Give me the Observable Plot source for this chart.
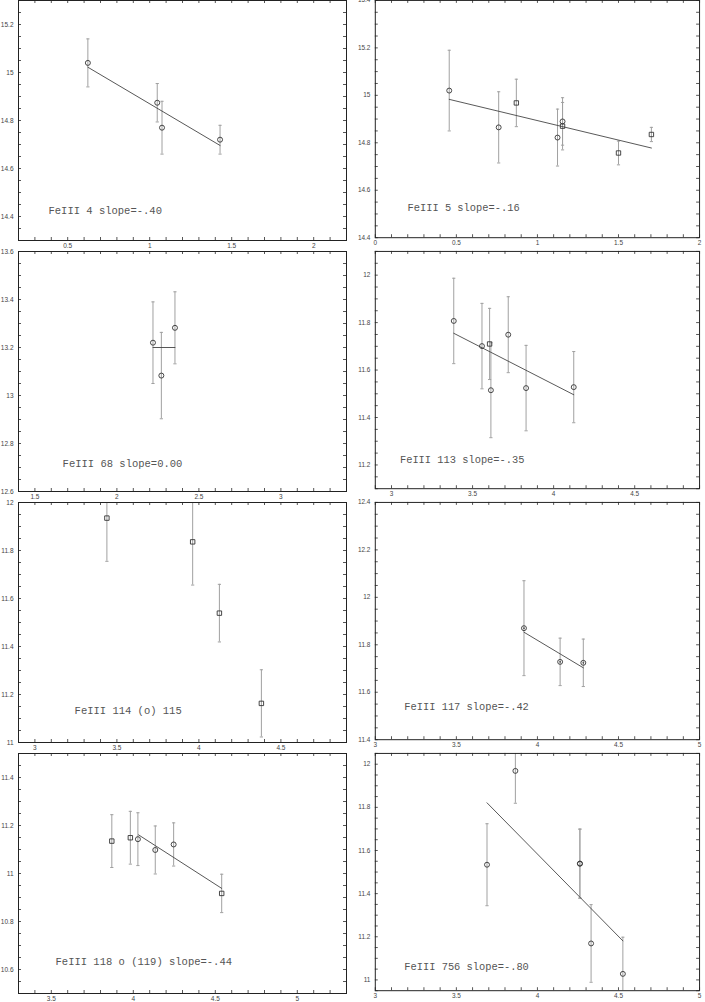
<!DOCTYPE html>
<html><head><meta charset="utf-8">
<script src="https://cdn.jsdelivr.net/npm/d3@7"></script>
<script src="https://cdn.jsdelivr.net/npm/@observablehq/plot@0.6"></script>
<style>
body{margin:0;background:#fff;}
#wrap{position:relative;width:705px;height:1002px;overflow:hidden;background:#fff;}
.panel{position:absolute;}
</style></head><body><div id="wrap"></div>
<script>
// ---------- DATA ----------
const titles = ["FeIII 4 slope=-.40", "FeIII 5 slope=-.16", "FeIII 68 slope=0.00", "FeIII 113 slope=-.35",
  "FeIII 114 (o) 115", "FeIII 117 slope=-.42", "FeIII 118 o (119) slope=-.44", "FeIII 756 slope=-.80"];
const labelPos = [[0.383, 14.425], [0.199, 14.525], [1.669, 12.718], [3.052, 11.221],
  [3.242, 11.133], [3.179, 11.538], [3.526, 10.633], [3.179, 11.06]];

const xDomains = [[0.2, 2.2], [0, 2], [1.4, 3.4], [2.9, 4.9], [2.9, 4.9], [3, 5], [3.3, 5.3], [3, 5]];
const yDomains = [[14.3, 15.3], [14.4, 15.4], [12.6, 13.6], [11.1, 12.1], [11, 12], [11.4, 12.4], [10.5, 11.5], [10.95, 12.05]];
const xTickLabels = [[0.5, 1, 1.5, 2], [0, 0.5, 1, 1.5, 2], [1.5, 2, 2.5, 3], [3, 3.5, 4, 4.5],
  [3, 3.5, 4, 4.5], [3, 3.5, 4, 4.5, 5], [3.5, 4, 4.5, 5], [3, 3.5, 4, 4.5, 5]];
const yTickLabels = [[14.4, 14.6, 14.8, 15, 15.2], [14.4, 14.6, 14.8, 15, 15.2, 15.4], [12.6, 12.8, 13, 13.2, 13.4, 13.6],
  [11.2, 11.4, 11.6, 11.8, 12], [11, 11.2, 11.4, 11.6, 11.8, 12], [11.4, 11.6, 11.8, 12, 12.2, 12.4],
  [10.6, 10.8, 11, 11.2, 11.4], [11, 11.2, 11.4, 11.6, 11.8, 12]];

// Panel 1: FeIII 4
const p1x = [0.623, 1.046, 1.075, 1.429];
const p1y = [15.04, 14.874, 14.77, 14.72];
const p1e = [0.10, 0.08, 0.11, 0.06];
const p1s = ["o", "o", "o", "o"];
const p1fit = [[0.623, 15.022], [1.429, 14.696]];
// Panel 2: FeIII 5
const p2x = [0.456, 0.761, 0.870, 1.124, 1.155, 1.155, 1.500, 1.703];
const p2y = [15.02, 14.865, 14.968, 14.822, 14.89, 14.87, 14.757, 14.835];
const p2e = [0.17, 0.15, 0.10, 0.12, 0.10, 0.10, 0.05, 0.03];
const p2s = ["o", "o", "s", "o", "o", "s", "s", "s"];
const p2fit = [[0.456, 14.983], [1.703, 14.778]];
// Panel 3: FeIII 68
const p3x = [2.22, 2.271, 2.354];
const p3y = [13.22, 13.083, 13.282];
const p3e = [0.17, 0.18, 0.15];
const p3s = ["o", "o", "o"];
const p3fit = [[2.22, 13.2], [2.354, 13.2]];
// Panel 4: FeIII 113
const p4x = [3.384, 3.558, 3.605, 3.613, 3.72, 3.83, 4.124];
const p4y = [11.807, 11.701, 11.71, 11.515, 11.749, 11.524, 11.528];
const p4e = [0.18, 0.18, 0.15, 0.20, 0.16, 0.18, 0.15];
const p4s = ["o", "o", "s", "o", "o", "o", "o"];
const p4fit = [[3.384, 11.755], [4.124, 11.496]];
// Panel 5: FeIII 114 / 115
const p5x = [3.439, 3.962, 4.125, 4.381];
const p5y = [11.935, 11.836, 11.539, 11.163];
const p5e = [0.18, 0.18, 0.12, 0.14];
const p5s = ["s", "s", "s", "s"];
const p5fit = [];
// Panel 6: FeIII 117
const p6x = [3.917, 4.14, 4.283];
const p6y = [11.87, 11.728, 11.724];
const p6e = [0.20, 0.10, 0.10];
const p6s = ["d", "d", "d"];
const p6fit = [[3.917, 11.853], [4.283, 11.703]];
// Panel 7: FeIII 118 / 119
const p7x = [3.869, 3.982, 4.028, 4.134, 4.246, 4.539];
const p7y = [11.135, 11.149, 11.143, 11.098, 11.121, 10.917];
const p7e = [0.11, 0.11, 0.11, 0.10, 0.09, 0.08];
const p7s = ["s", "s", "o", "o", "o", "s"];
const p7fit = [[4.032, 11.161], [4.539, 10.938]];
// Panel 8: FeIII 756
const p8x = [3.689, 3.864, 4.262, 4.262, 4.331, 4.527];
const p8y = [11.534, 11.969, 11.539, 11.539, 11.169, 11.028];
const p8e = [0.19, 0.15, 0.16, 0.16, 0.18, 0.17];
const p8s = ["o", "o", "o", "o", "o", "o"];
const p8fit = [[3.689, 11.821], [4.527, 11.181]];

const seriesX = [p1x, p2x, p3x, p4x, p5x, p6x, p7x, p8x];
const seriesY = [p1y, p2y, p3y, p4y, p5y, p6y, p7y, p8y];
const seriesE = [p1e, p2e, p3e, p4e, p5e, p6e, p7e, p8e];
const seriesS = [p1s, p2s, p3s, p4s, p5s, p6s, p7s, p8s];
const fits = [p1fit, p2fit, p3fit, p4fit, p5fit, p6fit, p7fit, p8fit];

// ---------- LAYOUT ----------
const W = 352, H = 258, ML = 18, MR = 6, MT = 6, MB = 12;
const FW = W - ML - MR, FH = H - MT - MB;
const colLeft = [0, 357];
const rowTop = [0, 251, 502, 752.5];

const capSym = {draw(ctx, size) { const w = Math.sqrt(size / Math.PI); ctx.moveTo(-w, 0); ctx.lineTo(w, 0); }};
const dotCircle = {draw(ctx, size) { const r = Math.sqrt(size / Math.PI); ctx.moveTo(r, 0); ctx.arc(0, 0, r, 0, 2 * Math.PI); ctx.moveTo(0.5, 0); ctx.arc(0, 0, 0.5, 0, 2 * Math.PI); }};

function minorTicks(dom, step) {
  const out = [];
  for (let k = Math.ceil(dom[0] / step - 1e-9); k * step <= dom[1] + 1e-9; k++) out.push(+(k * step).toFixed(4));
  return out;
}

const wrap = document.getElementById("wrap");
for (let i = 0; i < 8; i++) {
  const data = seriesX[i].map((x, j) => ({x, y: seriesY[i][j], e: seriesE[i][j], s: seriesS[i][j]}));
  const xd = xDomains[i], yd = yDomains[i];
  const xm = minorTicks(xd, 0.1), ym = minorTicks(yd, 0.05);
  const tickStroke = "#555";
  const chart = Plot.plot({
    width: W, height: H, marginLeft: ML, marginRight: MR, marginTop: MT, marginBottom: MB,
    x: {domain: xd}, y: {domain: yd},
    style: {background: "transparent", fontFamily: "Liberation Sans", fontSize: "6.5px", color: "#444", overflow: "visible"},
    marks: [
      Plot.tickX(xm, {x: d => d, insetTop: FH - 3, stroke: tickStroke}),
      Plot.tickX(xm, {x: d => d, insetBottom: FH - 3, stroke: tickStroke}),
      Plot.tickY(ym, {y: d => d, insetRight: FW - 3, stroke: tickStroke}),
      Plot.tickY(ym, {y: d => d, insetLeft: FW - 3, stroke: tickStroke}),
      Plot.axisX({ticks: xTickLabels[i], tickSize: 0, tickPadding: 3, label: null, tickFormat: d => String(d), fontSize: 6.5, fill: "#444"}),
      Plot.axisY({ticks: yTickLabels[i], tickSize: 0, tickPadding: 5, label: null, tickFormat: d => String(d), fontSize: 6.5, fill: "#444"}),
      Plot.ruleX(data, {x: "x", y1: d => d.y - d.e, y2: d => d.y + d.e, stroke: "#a0a0a0", strokeWidth: 1, clip: true}),
      Plot.dot(data, {x: "x", y: d => d.y - d.e, symbol: capSym, r: 1.6, stroke: "#a0a0a0", strokeWidth: 1, clip: true}),
      Plot.dot(data, {x: "x", y: d => d.y + d.e, symbol: capSym, r: 1.6, stroke: "#a0a0a0", strokeWidth: 1, clip: true}),
      Plot.line(fits[i], {x: d => d[0], y: d => d[1], stroke: "#444", strokeWidth: 0.9}),
      Plot.dot(data, {filter: d => d.s === "o", x: "x", y: "y", symbol: "circle", r: 2.5, stroke: "#333", strokeWidth: 0.9, fill: "none"}),
      Plot.dot(data, {filter: d => d.s === "s", x: "x", y: "y", symbol: "square", r: 2.5, stroke: "#333", strokeWidth: 0.9, fill: "none"}),
      Plot.dot(data, {filter: d => d.s === "d", x: "x", y: "y", symbol: dotCircle, r: 2.5, stroke: "#333", strokeWidth: 0.9, fill: "none"}),
      Plot.text([titles[i]], {x: labelPos[i][0], y: labelPos[i][1], text: d => d, textAnchor: "start", fontFamily: "Liberation Mono", fontSize: 10.5, fill: "#555"}),
      Plot.frame({stroke: "#222", strokeWidth: 1})
    ]
  });
  const div = document.createElement("div");
  div.className = "panel";
  div.style.left = colLeft[i % 2] + "px";
  div.style.top = (rowTop[Math.floor(i / 2)] - MT) + "px";
  div.appendChild(chart);
  wrap.appendChild(div);
}
</script></body></html>
